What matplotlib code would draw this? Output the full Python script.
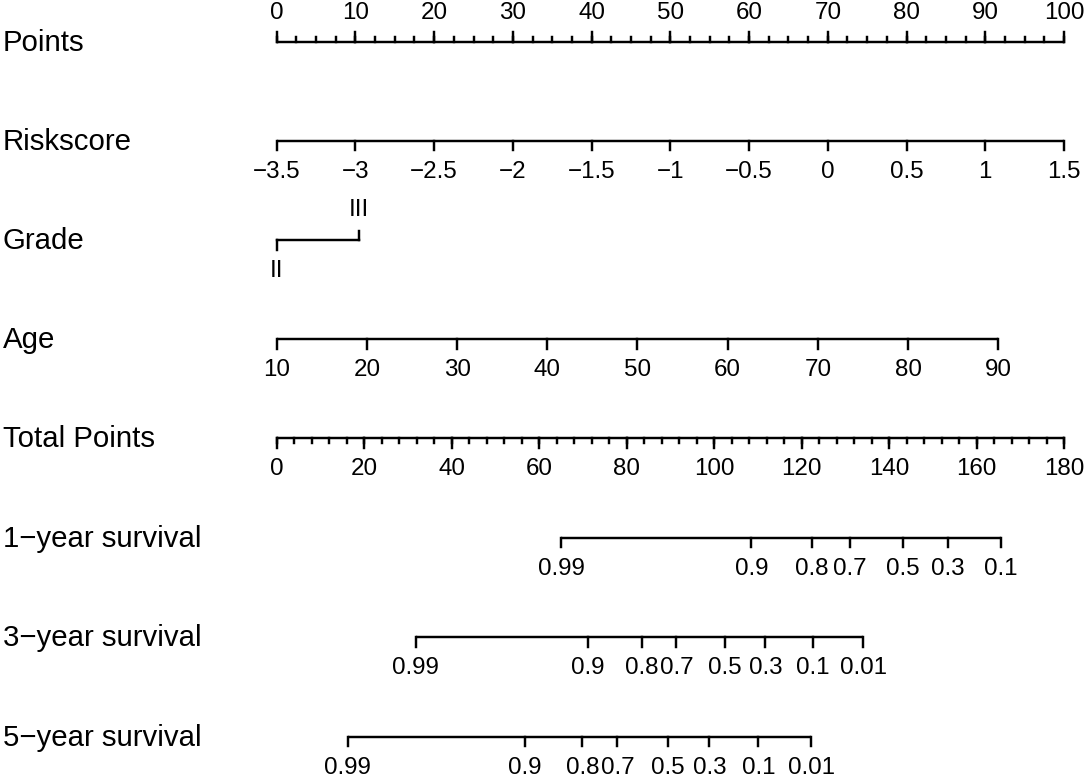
import numpy as np
import matplotlib.pyplot as plt

# ----------------------------- DATA -----------------------------

row_names = ["Points", "Riskscore", "Grade", "Age", "Total Points",
             "1\u2212year survival", "3\u2212year survival", "5\u2212year survival"]

points_major = np.arange(0, 101, 10)
points_minor = np.arange(0, 100.1, 2.5)

risk_vals = [-3.5, -3, -2.5, -2, -1.5, -1, -0.5, 0, 0.5, 1, 1.5]
risk_labels = ["\u22123.5", "\u22123", "\u22122.5", "\u22122", "\u22121.5", "\u22121",
               "\u22120.5", "0", "0.5", "1", "1.5"]

grade_labels = ["II", "III"]
grade_points = [0, 10.45]

age_vals = [10, 20, 30, 40, 50, 60, 70, 80, 90]
age_pts_per_year = 91.65 / 80.0

total_major = np.arange(0, 181, 20)
total_minor = np.arange(0, 180.1, 4)
total_max = 180.0

surv_labels = ["0.99", "0.9", "0.8", "0.7", "0.5", "0.3", "0.1", "0.01"]
surv1_total = [65.0, 108.5, 122.4, 131.0, 143.2, 153.5, 165.5]
surv3_total = [31.8, 71.1, 83.5, 91.4, 102.4, 111.7, 122.6, 134.1]
surv5_total = [16.2, 56.8, 69.9, 77.9, 89.5, 98.9, 110.1, 122.2]

# ----------------------------- LAYOUT -----------------------------

W, H = 1084, 778
x0_px, px_per_pt = 276.7, 7.873
row_y = [41.7, 140.5, 240, 339, 438.3, 537.7, 637, 736.7]
lw = 1.75
lab_fs = 21.2
tick_fs = 17.4
maj_len, min_len = 9.5, 5
lab_off_below = 31
lab_off_above = 29

plt.rcParams['font.family'] = ['Liberation Sans', 'DejaVu Sans']

fig = plt.figure(figsize=(W / 100, H / 100), dpi=100)
ax = fig.add_axes([0, 0, 1, 1])
ax.set_xlim(-x0_px / px_per_pt, (W - x0_px) / px_per_pt)
ax.set_ylim(H, 0)
ax.axis('off')


def tot2pt(t):
    return np.asarray(t, dtype=float) * 100.0 / total_max


def draw_scale(y, xs, labels, up=False, minor=None, labels_above=False):
    xs = np.asarray(xs, dtype=float)
    ax.plot([xs.min(), xs.max()], [y, y], color='black', lw=lw, solid_capstyle='butt')
    d = -1 if up else 1
    if minor is not None:
        for m in minor:
            ax.plot([m, m], [y, y + d * min_len], color='black', lw=lw)
    for xv in xs:
        ax.plot([xv, xv], [y, y + d * maj_len], color='black', lw=lw)
    ly = y - lab_off_above if labels_above else y + lab_off_below
    for xv, s in zip(xs, labels):
        ax.text(xv, ly, s, ha='center', va='center', fontsize=tick_fs)


# row labels
for name, y in zip(row_names, row_y):
    ax.text(-x0_px / px_per_pt + 3 / px_per_pt, y + 1, name, ha='left', va='center', fontsize=lab_fs)

# Points
draw_scale(row_y[0], points_major, [str(v) for v in points_major], up=True,
           minor=points_minor, labels_above=True)

# Riskscore
risk_pts = (np.array(risk_vals) + 3.5) / 5.0 * 100
draw_scale(row_y[1], risk_pts, risk_labels)

# Grade: II below, III above
y = row_y[2]
ax.plot(grade_points, [y, y], color='black', lw=lw)
ax.plot([grade_points[0]] * 2, [y, y + maj_len], color='black', lw=lw)
ax.plot([grade_points[1]] * 2, [y, y - maj_len], color='black', lw=lw)
ax.text(grade_points[0], y + lab_off_below, grade_labels[0], ha='center', va='center', fontsize=tick_fs)
ax.text(grade_points[1], y - lab_off_above - 1, grade_labels[1], ha='center', va='center', fontsize=tick_fs)

# Age
age_pts = (np.array(age_vals) - 10) * age_pts_per_year
draw_scale(row_y[3], age_pts, [str(v) for v in age_vals])

# Total Points
draw_scale(row_y[4], tot2pt(total_major), [str(v) for v in total_major],
           minor=tot2pt(total_minor))

# survival scales
draw_scale(row_y[5], tot2pt(surv1_total), surv_labels[:len(surv1_total)])
draw_scale(row_y[6], tot2pt(surv3_total), surv_labels)
draw_scale(row_y[7], tot2pt(surv5_total), surv_labels)

fig.savefig('out.png', dpi=100)
